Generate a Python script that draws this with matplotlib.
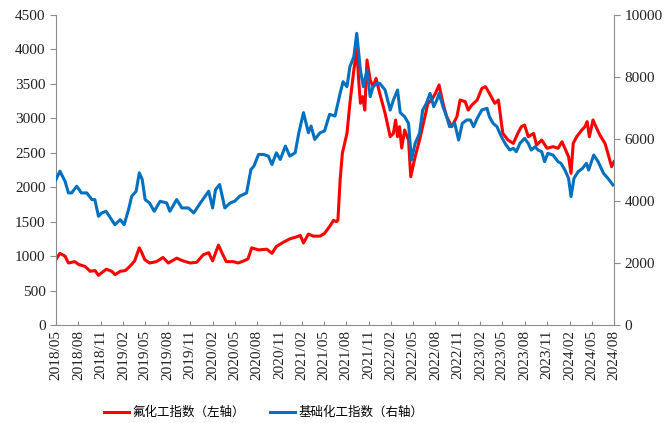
import matplotlib
matplotlib.use("Agg")
import matplotlib.pyplot as plt
import matplotlib.dates as mdates
import pandas as pd

# 氟化工指数 (left axis)
fluoro_dates = [
    "2018-05-01", "2018-05-17", "2018-06-07", "2018-06-21", "2018-07-17", "2018-08-01",
    "2018-08-28", "2018-09-18", "2018-10-08", "2018-10-22", "2018-11-01", "2018-11-23",
    "2018-12-15", "2018-12-29", "2019-01-19", "2019-02-09", "2019-02-27", "2019-03-19",
    "2019-04-07", "2019-04-16", "2019-04-29", "2019-05-19", "2019-06-16", "2019-07-13",
    "2019-08-04", "2019-09-07", "2019-10-04", "2019-11-01", "2019-11-28", "2019-12-25",
    "2020-01-16", "2020-02-01", "2020-02-25", "2020-03-10", "2020-03-28", "2020-04-25",
    "2020-05-16", "2020-06-07", "2020-06-25", "2020-07-10", "2020-08-07", "2020-09-10",
    "2020-10-01", "2020-10-19", "2020-11-16", "2020-12-13", "2021-01-10", "2021-01-25",
    "2021-02-07", "2021-02-27", "2021-03-19", "2021-04-16", "2021-05-04", "2021-05-25",
    "2021-06-10", "2021-06-22", "2021-06-28", "2021-07-07", "2021-07-16", "2021-08-04",
    "2021-08-16", "2021-09-01", "2021-09-13", "2021-09-22", "2021-09-28", "2021-10-07",
    "2021-10-16", "2021-10-25", "2021-11-07", "2021-11-19", "2021-12-01", "2021-12-16",
    "2022-01-07", "2022-01-28", "2022-02-10", "2022-02-19", "2022-02-27", "2022-03-07",
    "2022-03-16", "2022-03-28", "2022-04-13", "2022-04-22", "2022-05-10", "2022-05-28",
    "2022-06-19", "2022-07-01", "2022-07-16", "2022-08-01", "2022-08-16", "2022-09-01",
    "2022-09-16", "2022-10-07", "2022-10-28", "2022-11-10", "2022-12-01", "2022-12-13",
    "2022-12-28", "2023-01-19", "2023-02-07", "2023-02-22", "2023-03-10", "2023-04-01",
    "2023-04-16", "2023-04-28", "2023-05-04", "2023-05-25", "2023-06-16", "2023-07-04",
    "2023-07-19", "2023-08-01", "2023-08-16", "2023-09-07", "2023-09-19", "2023-10-10",
    "2023-11-01", "2023-11-25", "2023-12-16", "2024-01-01", "2024-01-13", "2024-01-28",
    "2024-02-07", "2024-02-16", "2024-03-01", "2024-03-22", "2024-04-04", "2024-04-13",
    "2024-04-22", "2024-05-07", "2024-05-22", "2024-06-04", "2024-06-25", "2024-07-07",
    "2024-07-22", "2024-08-01",
]
fluoro_vals = [
    950, 1040, 1000, 900, 920, 880,
    850, 780, 790, 720, 750, 810,
    780, 730, 780, 790, 850, 930,
    1120, 1060, 950, 900, 920, 980,
    900, 970, 930, 900, 910, 1020,
    1050, 930, 1160, 1050, 920, 920,
    900, 930, 960, 1120, 1090, 1100,
    1040, 1140, 1200, 1250, 1280, 1300,
    1190, 1320, 1290, 1290, 1330, 1430,
    1520, 1500, 1524, 2105, 2492, 2782,
    3218, 3700, 4000, 3500, 3220, 3315,
    3120, 3847, 3556, 3460, 3580, 3363,
    3074, 2733, 2782, 2976, 2733, 2879,
    2569, 2830, 2685, 2153, 2443, 2685,
    3024, 3218, 3266, 3363, 3484, 3218,
    3024, 2879, 3024, 3266, 3242, 3120,
    3193, 3266, 3435, 3460, 3363, 3218,
    3266, 2929, 2782, 2685, 2637, 2782,
    2879, 2903, 2733, 2782, 2613, 2685,
    2565, 2589, 2565, 2661, 2565, 2443,
    2201, 2637, 2733, 2830, 2879, 2952,
    2733, 2976, 2855, 2758, 2637, 2492,
    2298, 2371,
]

# 基础化工指数 (right axis)
basic_dates = [
    "2018-05-01", "2018-05-17", "2018-06-07", "2018-06-21", "2018-07-04", "2018-07-25",
    "2018-08-13", "2018-09-04", "2018-09-25", "2018-10-07", "2018-10-22", "2018-11-04",
    "2018-11-22", "2018-12-10", "2018-12-28", "2019-01-19", "2019-02-04", "2019-02-22",
    "2019-03-07", "2019-03-25", "2019-04-07", "2019-04-19", "2019-05-01", "2019-05-19",
    "2019-06-07", "2019-07-01", "2019-07-28", "2019-08-10", "2019-09-07", "2019-09-28",
    "2019-10-25", "2019-11-16", "2019-12-13", "2020-01-16", "2020-02-01", "2020-02-13",
    "2020-03-01", "2020-03-22", "2020-04-13", "2020-05-01", "2020-05-22", "2020-06-19",
    "2020-07-07", "2020-07-19", "2020-08-07", "2020-08-28", "2020-09-16", "2020-10-01",
    "2020-10-19", "2020-11-04", "2020-11-25", "2020-12-13", "2021-01-04", "2021-01-19",
    "2021-02-07", "2021-02-27", "2021-03-10", "2021-03-25", "2021-04-16", "2021-05-04",
    "2021-05-25", "2021-06-16", "2021-07-07", "2021-07-19", "2021-08-04", "2021-08-16",
    "2021-09-01", "2021-09-13", "2021-09-28", "2021-10-10", "2021-10-25", "2021-11-07",
    "2021-11-19", "2021-12-04", "2021-12-16", "2022-01-07", "2022-01-28", "2022-02-10",
    "2022-02-27", "2022-03-10", "2022-03-28", "2022-04-13", "2022-04-25", "2022-05-10",
    "2022-05-28", "2022-06-10", "2022-06-25", "2022-07-10", "2022-07-25", "2022-08-07",
    "2022-08-16", "2022-09-01", "2022-09-16", "2022-09-28", "2022-10-19", "2022-11-04",
    "2022-11-19", "2022-12-07", "2022-12-22", "2023-01-04", "2023-01-19", "2023-02-07",
    "2023-02-28", "2023-03-10", "2023-03-25", "2023-04-10", "2023-04-28", "2023-05-13",
    "2023-06-01", "2023-06-16", "2023-06-28", "2023-07-13", "2023-08-01", "2023-08-16",
    "2023-08-28", "2023-09-13", "2023-09-25", "2023-10-10", "2023-10-22", "2023-11-04",
    "2023-11-25", "2023-12-16", "2023-12-28", "2024-01-13", "2024-01-28", "2024-02-07",
    "2024-02-19", "2024-03-07", "2024-03-25", "2024-04-10", "2024-04-19", "2024-05-10",
    "2024-05-28", "2024-06-19", "2024-07-07", "2024-07-28",
]
basic_vals = [
    4693, 4962, 4639, 4261, 4261, 4477,
    4261, 4261, 4045, 4045, 3506, 3614,
    3668, 3452, 3236, 3398, 3236, 3722,
    4153, 4315, 4908, 4693, 4045, 3937,
    3668, 3991, 3937, 3668, 4045, 3776,
    3776, 3614, 3937, 4315, 3776, 4369,
    4531, 3776, 3937, 3991, 4153, 4261,
    5016, 5124, 5502, 5502, 5448, 5178,
    5556, 5340, 5771, 5448, 5556, 6203,
    6850, 6203, 6419, 5987, 6203, 6257,
    6796, 6742, 7474, 7849, 7688, 8333,
    8655, 9409, 8226, 7688, 8226, 7366,
    7688, 7796, 7796, 7581, 6935, 7258,
    7581, 6850, 6720, 6505, 5323, 5860,
    6183, 6935, 7150, 7473, 7043, 7258,
    7473, 7043, 6720, 6397, 6505, 5968,
    6505, 6613, 6613, 6397, 6667, 6935,
    6990, 6720, 6505, 6397, 6075, 5860,
    5645, 5699, 5591, 5860, 6022, 5860,
    5645, 5752, 5645, 5591, 5268, 5538,
    5484, 5268, 5215, 5000, 4731, 4140,
    4731, 4946, 5054, 5215, 5000, 5484,
    5268, 4892, 4731, 4516,
]

label_fluoro = "氟化工指数（左轴）"
label_basic = "基础化工指数（右轴）"

serif = ["Liberation Serif", "DejaVu Serif"]
cjk = ["Noto Sans CJK SC", "DejaVu Sans"]
spine_col = "#8c8c8c"

fig = plt.figure(figsize=(6.68, 4.23), dpi=100)
ax = fig.add_axes([0.0838, 0.2317, 0.8354, 0.7328])
ax2 = ax.twinx()

l1, = ax.plot(pd.to_datetime(fluoro_dates), fluoro_vals, color="#ff0000", lw=2.2)
l2, = ax2.plot(pd.to_datetime(basic_dates), basic_vals, color="#0070c0", lw=2.2)

ax.set_ylim(0, 4500)
ax.set_yticks(range(0, 4501, 500))
ax2.set_ylim(0, 10000)
ax2.set_yticks(range(0, 10001, 2000))

ax.set_xlim(pd.Timestamp("2018-05-01"), pd.Timestamp("2024-08-01"))
ax.xaxis.set_major_locator(mdates.MonthLocator(bymonth=[2, 5, 8, 11]))
ax.xaxis.set_major_formatter(mdates.DateFormatter("%Y/%m"))

for a in (ax, ax2):
    a.spines["top"].set_visible(False)
    for s in ("left", "right", "bottom"):
        a.spines[s].set_color(spine_col)
ax.spines["right"].set_visible(False)
ax2.spines["left"].set_visible(False)
ax2.spines["bottom"].set_visible(False)

ax.tick_params(axis="y", direction="out", length=4, color=spine_col, labelsize=11)
ax2.tick_params(axis="y", direction="out", length=4, color=spine_col, labelsize=11)
ax.tick_params(axis="x", direction="in", length=3, color=spine_col, labelsize=11,
               rotation=90)

for lab in ax.get_xticklabels() + ax.get_yticklabels() + ax2.get_yticklabels():
    lab.set_fontfamily(serif)
    lab.set_color("#222222")

fig.legend([l1, l2], [label_fluoro, label_basic], loc="center",
           bbox_to_anchor=(0.395, 0.025), ncol=2, frameon=False,
           prop={"family": cjk, "size": 9}, handlelength=2.0,
           columnspacing=2.0, handletextpad=0.3)

fig.savefig("out.png", dpi=100)
